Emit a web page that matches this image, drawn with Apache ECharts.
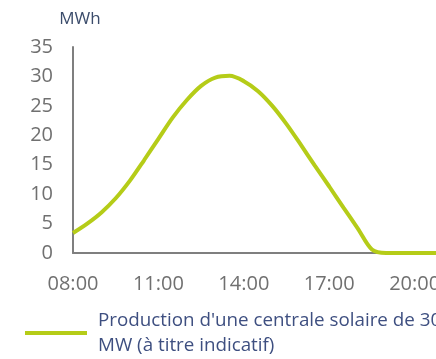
<!DOCTYPE html>
<html>
<head>
<meta charset="utf-8">
<script src="https://cdn.jsdelivr.net/npm/echarts@6/dist/echarts.min.js"></script>
<style>
  html, body { margin: 0; padding: 0; background: #ffffff; }
  #chart { width: 436px; height: 359px; }
</style>
</head>
<body>
<div id="chart"></div>
<script>
// Half-hourly time steps (decimal hours) and estimated solar output in MWh
const hours = [8, 8.5, 9, 9.5, 10, 10.5, 11, 11.5, 12, 12.5, 13, 13.5, 14, 14.5,
  15, 15.5, 16, 16.5, 17, 17.5, 18, 18.5, 19, 19.5, 20, 20.5, 21];
const production = [3.4, 5.0, 6.9, 9.3, 12.3, 15.8, 19.4, 23.0, 26.0, 28.4, 29.8, 30.1, 29.2, 27.5,
  25.0, 21.9, 18.4, 14.8, 11.3, 7.7, 4.2, 0.6, 0, 0, 0, 0, 0];
const seriesName = "Production d'une centrale solaire de 30\nMW (à titre indicatif)";
const yTicks = { min: 0, max: 35, step: 5 };
const xTicks = { min: 8, max: 20.75, step: 3 };

const points = hours.map((h, i) => [h, production[i]]);

function hourLabel(v) {
  if ((v - xTicks.min) % xTicks.step !== 0) return '';
  return (v < 10 ? '0' : '') + v + ':00';
}

const chart = echarts.init(document.getElementById('chart'), null, { renderer: 'canvas' });
chart.setOption({
  animation: false,
  backgroundColor: '#ffffff',
  grid: {
    left: 73, top: 47, bottom: 106, right: 0,
    containLabel: false,
    outerBoundsMode: 'none'
  },
  legend: {
    left: 20,
    top: 303,
    icon: 'rect',
    itemWidth: 62,
    itemHeight: 4,
    textStyle: {
      color: '#3e4f80',
      fontFamily: 'Open Sans',
      fontSize: 18.8,
      lineHeight: 25,
      padding: [0, 0, 0, 6]
    },
    data: [seriesName]
  },
  xAxis: {
    type: 'value',
    min: xTicks.min,
    max: xTicks.max,
    interval: xTicks.step,
    axisLine: { show: true, lineStyle: { color: '#7f7f7f', width: 2 } },
    axisTick: { show: false },
    splitLine: { show: false },
    axisLabel: {
      formatter: hourLabel,
      color: '#707070',
      fontFamily: 'Open Sans',
      fontSize: 20,
      margin: 21
    }
  },
  yAxis: {
    type: 'value',
    min: yTicks.min,
    max: yTicks.max,
    interval: yTicks.step,
    name: 'MWh',
    nameLocation: 'end',
    nameGap: 19,
    nameTextStyle: {
      color: '#3b4c6b',
      fontFamily: 'Open Sans',
      fontSize: 17,
      align: 'center',
      padding: [0, 0, 0, 14]
    },
    axisLine: { show: true, lineStyle: { color: '#7f7f7f', width: 2 } },
    axisTick: { show: false },
    splitLine: { show: false },
    axisLabel: {
      color: '#707070',
      fontFamily: 'Open Sans',
      fontSize: 20,
      margin: 20
    }
  },
  series: [{
    name: seriesName,
    type: 'line',
    data: points,
    smooth: 0.3,
    showSymbol: false,
    clip: false,
    lineStyle: { color: '#b5cc18', width: 4 },
    itemStyle: { color: '#b5cc18' }
  }]
});
</script>
</body>
</html>
